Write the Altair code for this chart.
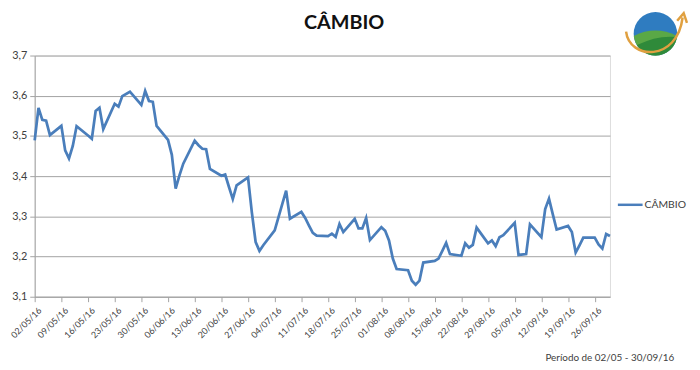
import altair as alt
import pandas as pd

# ---- data ----
start_date = "2016-05-02"
end_date = "2016-09-30"
holidays = ["2016-05-26", "2016-09-07"]

cambio = [
    3.489, 3.570, 3.540, 3.538, 3.502,
    3.525, 3.464, 3.444, 3.475, 3.524,
    3.501, 3.493, 3.562, 3.570, 3.517,
    3.580, 3.573, 3.599, 3.610,
    3.577, 3.612, 3.587, 3.585, 3.525,
    3.490, 3.453, 3.369, 3.402, 3.431,
    3.488, 3.477, 3.468, 3.467, 3.418,
    3.401, 3.404, 3.373, 3.343, 3.377,
    3.397, 3.310, 3.236, 3.214, 3.228,
    3.265, 3.298, 3.331, 3.364, 3.294,
    3.311, 3.296, 3.277, 3.259, 3.252,
    3.251, 3.257, 3.249, 3.281, 3.261,
    3.294, 3.270, 3.270, 3.296, 3.241,
    3.273, 3.264, 3.240, 3.195, 3.169,
    3.166, 3.140, 3.130, 3.140, 3.185,
    3.189, 3.195, 3.214, 3.234, 3.206,
    3.202, 3.233, 3.222, 3.229, 3.272,
    3.233, 3.240, 3.226, 3.248, 3.253,
    3.284, 3.204, 3.206, 3.280,
    3.248, 3.318, 3.344, 3.305, 3.267,
    3.276, 3.261, 3.210, 3.228, 3.247,
    3.247, 3.230, 3.220, 3.256, 3.251,
]

tick_mondays = [
    "2016-05-02", "2016-05-09", "2016-05-16", "2016-05-23", "2016-05-30",
    "2016-06-06", "2016-06-13", "2016-06-20", "2016-06-27", "2016-07-04",
    "2016-07-11", "2016-07-18", "2016-07-25", "2016-08-01", "2016-08-08",
    "2016-08-15", "2016-08-22", "2016-08-29", "2016-09-05", "2016-09-12",
    "2016-09-19", "2016-09-26",
]
y_ticks = [3.1, 3.2, 3.3, 3.4, 3.5, 3.6, 3.7]

series_name = "CÂMBIO"
title_text = "CÂMBIO"
footnote = "Período de 02/05 - 30/09/16"

days = [d for d in pd.bdate_range(start_date, end_date) if d.strftime("%Y-%m-%d") not in holidays]
df = pd.DataFrame({"data": [d.strftime("%Y-%m-%d") for d in days], "valor": cambio})


def dt(s):
    y, m, d = (int(p) for p in s.split("-"))
    return alt.DateTime(year=y, month=m, date=d, utc=True)


FONT = "Lato"
GRID = "#a3a3a3"
LINE = "#4a7ebb"
TXT = "#404040"

line = alt.Chart(df).mark_line(color=LINE, strokeWidth=2.75).encode(
    x=alt.X(
        "data:T",
        scale=alt.Scale(type="utc", domain=[dt(start_date), dt(end_date)]),
        axis=alt.Axis(
            values=[dt(s) for s in tick_mondays],
            labelExpr="utcFormat(datum.value, '%d/%m/%y')",
            labelAngle=315,
            labelAlign="right",
            labelBaseline="middle",
            labelPadding=7,
            labelOffset=5,
            labelFontSize=9,
            labelColor=TXT,
            labelFont=FONT,
            labelBound=False,
            tickSize=5,
            tickColor=GRID,
            domainColor=GRID,
            grid=False,
            title=None,
            labelOverlap=False,
        ),
    ),
    y=alt.Y(
        "valor:Q",
        scale=alt.Scale(domain=[3.1, 3.7], nice=False, zero=False),
        axis=alt.Axis(
            values=y_ticks,
            labelExpr="replace(format(datum.value, '.1f'), '.', ',')",
            labelFontSize=11,
            labelColor=TXT,
            labelFont=FONT,
            labelPadding=3,
            tickSize=5,
            tickColor=GRID,
            domainColor=GRID,
            gridColor=GRID,
            grid=True,
            title=None,
        ),
    ),
)

one = alt.Data(values=[{"k": 1}])

title = alt.Chart(one).mark_text(
    text=title_text, font=FONT, fontSize=20, fontWeight="bold", color="#111111",
    align="center", baseline="alphabetic",
).encode(x=alt.value(313), y=alt.value(-27))

foot = alt.Chart(one).mark_text(
    text=footnote, font=FONT, fontSize=10, color=TXT, align="right", baseline="alphabetic",
).encode(x=alt.value(647), y=alt.value(309))

leg_line = alt.Chart(one).mark_rule(color=LINE, strokeWidth=2.5).encode(
    x=alt.value(590), x2=alt.value(615), y=alt.value(151)
)
leg_text = alt.Chart(one).mark_text(
    text=series_name, font=FONT, fontSize=10.5, color=TXT, align="left", baseline="middle",
).encode(x=alt.value(617), y=alt.value(151))

# small decorative logo (top right)
LX, LY = 628, -22
logo_blue = alt.Chart(one).mark_point(
    shape="circle", filled=True, color="#2f7cc0", opacity=1, size=1936
).encode(x=alt.value(LX), y=alt.value(LY))
logo_green = alt.Chart(one).mark_point(
    shape="M -0.995 0.1 Q 0 -0.4 0.995 0.1 A 1 1 0 0 1 -0.995 0.1 Z",
    filled=True, color="#5aa846", opacity=1, size=1936,
).encode(x=alt.value(LX), y=alt.value(LY))
logo_green2 = alt.Chart(one).mark_point(
    shape="M -0.85 0.52 Q 0.1 0.05 0.99 0.15 A 1 1 0 0 1 -0.85 0.52 Z",
    filled=True, color="#2f8a3a", opacity=1, size=1936,
).encode(x=alt.value(LX), y=alt.value(LY))
logo_swoosh = alt.Chart(one).mark_point(
    shape="M -1.35 -0.1 C -1.2 1.2 1.0 1.3 1.25 -0.75 M 1.0 -0.6 L 1.3 -0.95 L 1.45 -0.5",
    filled=False, color="#e0a040", strokeWidth=2.5, opacity=1, size=1936,
).encode(x=alt.value(LX), y=alt.value(LY))

chart = alt.layer(
    line, title, foot, leg_line, leg_text, logo_blue, logo_green, logo_green2, logo_swoosh
).properties(
    width=582,
    height=244,
    autosize=alt.AutoSizeParams(type="none"),
    padding={"left": 27, "top": 46, "right": 83, "bottom": 70},
).configure_view(stroke=None).configure(background="white")

chart.save("out.html", embed_options={"renderer": "svg", "actions": False})
